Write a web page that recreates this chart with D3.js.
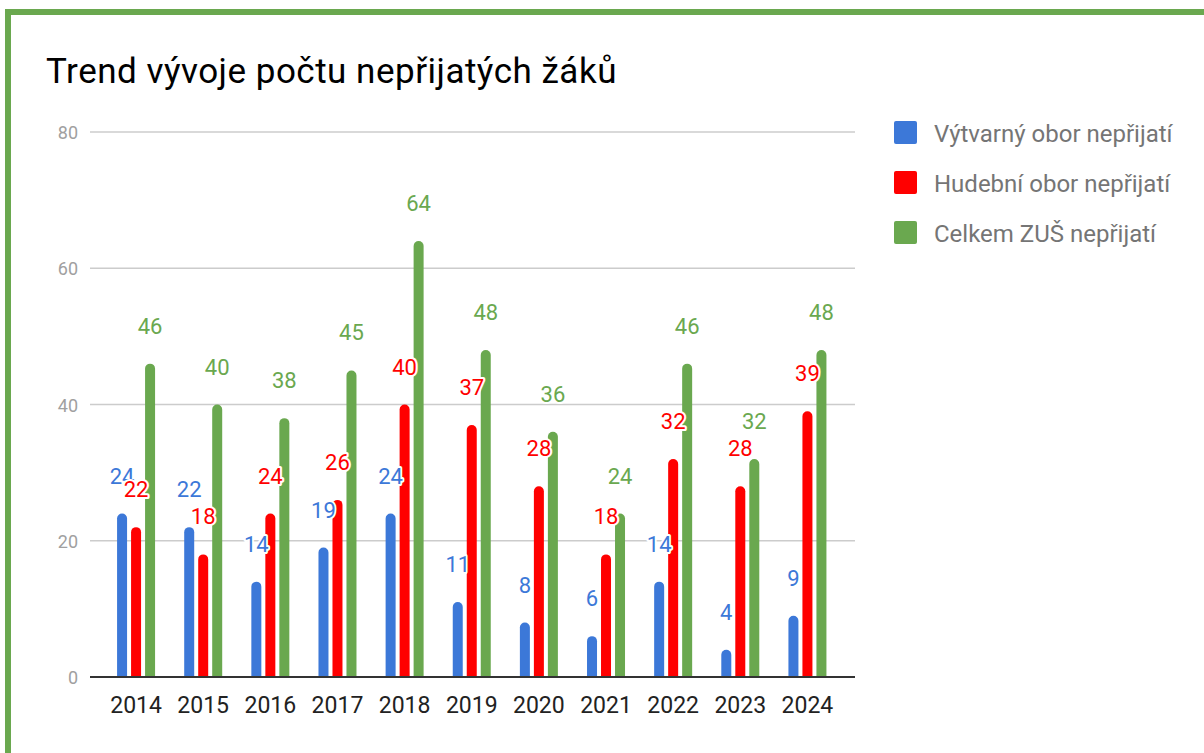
<!DOCTYPE html>
<html>
<head>
<meta charset="utf-8">
<script src="https://cdn.jsdelivr.net/npm/d3@7"></script>
<style>
  body { margin: 0; background: #fff; }
  svg { font-family: Roboto, "Noto Sans", sans-serif; }
</style>
</head>
<body>
<svg id="chart" width="1204" height="753"></svg>
<script>
var years = ["2014", "2015", "2016", "2017", "2018", "2019", "2020", "2021", "2022", "2023", "2024"];
var vytvarny = [24, 22, 14, 19, 24, 11, 8, 6, 14, 4, 9];
var hudebni = [22, 18, 24, 26, 40, 37, 28, 18, 32, 28, 39];
var celkem = [46, 40, 38, 45, 64, 48, 36, 24, 46, 32, 48];
var seriesNames = ["Výtvarný obor nepřijatí", "Hudební obor nepřijatí", "Celkem ZUŠ nepřijatí"];
var yTicks = [0, 20, 40, 60, 80];

var colors = ["#3c78d8", "#ff0000", "#6aa84f"];
var series = [vytvarny, hudebni, celkem];

var svg = d3.select("#chart");

// frame
svg.append("path")
    .attr("d", "M8,753 L8,12 L1204,12")
    .style("fill", "none")
    .style("stroke", "#6aa84f")
    .style("stroke-width", 6);

svg.append("text")
    .attr("x", 46)
    .attr("y", 83)
    .style("font-size", "35px")
    .style("letter-spacing", "0.5px")
    .style("fill", "#000")
    .text("Trend vývoje počtu nepřijatých žáků");

var x = d3.scaleBand()
    .domain(years)
    .range([102.5, 841])
    .paddingInner(0)
    .paddingOuter(0);

var y = d3.scaleLinear()
    .domain([0, 80])
    .range([677, 132]);

var barW = 10, gap = 4;

// gridlines
svg.selectAll(".grid")
    .data(yTicks.slice(1))
    .enter().append("line")
    .attr("class", "grid")
    .attr("x1", 90).attr("x2", 855)
    .attr("y1", function(d) { return y(d); })
    .attr("y2", function(d) { return y(d); })
    .style("stroke", "#cccccc")
    .style("stroke-width", 1.5);

svg.selectAll(".ytick")
    .data(yTicks)
    .enter().append("text")
    .attr("class", "ytick")
    .attr("x", 78)
    .attr("y", function(d) { return y(d) + 7; })
    .attr("text-anchor", "end")
    .style("font-size", "18px")
    .style("fill", "#a0a0a0")
    .text(function(d) { return d; });

// bars, rounded top
function bar_path(cx, top, bottom, w) {
    var r = Math.min(w / 2, (bottom - top));
    var l = cx - w / 2, rt = cx + w / 2;
    return "M" + l + "," + bottom +
        " L" + l + "," + (top + r) +
        " A" + r + "," + r + " 0 0 1 " + rt + "," + (top + r) +
        " L" + rt + "," + bottom + " Z";
}

series.forEach(function(vals, si) {
    var off = (si - 1) * (barW + gap);
    svg.append("g").selectAll("path")
        .data(vals)
        .enter().append("path")
        .attr("d", function(d, i) {
            var cx = x(years[i]) + x.bandwidth() / 2 + off;
            return bar_path(cx, y(d), y(0), barW);
        })
        .style("fill", colors[si]);
});

// value labels
series.forEach(function(vals, si) {
    var off = (si - 1) * (barW + gap);
    svg.append("g").selectAll("text")
        .data(vals)
        .enter().append("text")
        .attr("x", function(d, i) { return x(years[i]) + x.bandwidth() / 2 + off; })
        .attr("y", function(d) { return y(d) - 30; })
        .attr("text-anchor", "middle")
        .style("font-size", "22px")
        .style("fill", colors[si])
        .style("stroke", "#fff")
        .style("stroke-width", 4)
        .style("stroke-linejoin", "round")
        .style("paint-order", "stroke")
        .text(function(d) { return d; });
});

// baseline
svg.append("line")
    .attr("x1", 90).attr("x2", 855)
    .attr("y1", y(0)).attr("y2", y(0))
    .style("stroke", "#333333")
    .style("stroke-width", 2);

svg.selectAll(".xlab")
    .data(years)
    .enter().append("text")
    .attr("class", "xlab")
    .attr("x", function(d) { return x(d) + x.bandwidth() / 2; })
    .attr("y", 713)
    .attr("text-anchor", "middle")
    .style("font-size", "23px")
    .style("fill", "#222")
    .text(function(d) { return d; });

// legend
var leg = svg.selectAll(".leg")
    .data(seriesNames)
    .enter().append("g")
    .attr("class", "leg")
    .attr("transform", function(d, i) { return "translate(894," + (121 + i * 50) + ")"; });

leg.append("rect")
    .attr("width", 23).attr("height", 23)
    .attr("rx", 2)
    .style("fill", function(d, i) { return colors[i]; });

leg.append("text")
    .attr("x", 40)
    .attr("y", 21)
    .style("font-size", "24px")
    .style("fill", "#757575")
    .text(function(d) { return d; });
</script>
</body>
</html>
